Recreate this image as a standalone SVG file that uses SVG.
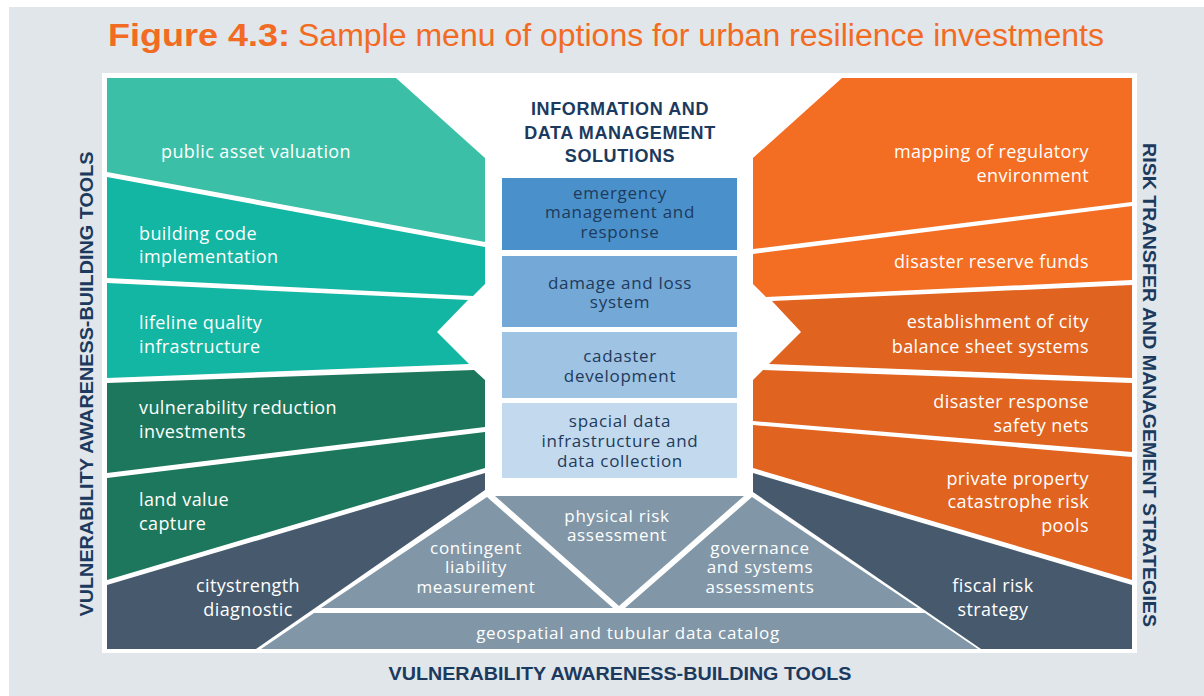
<svg xmlns="http://www.w3.org/2000/svg" width="1204" height="696" viewBox="0 0 1204 696">
<style>
.t{font-family:"Open Sans","Noto Sans",sans-serif;font-size:18px;fill:#ffffff;letter-spacing:0.4px}
.s{font-size:17px;letter-spacing:0.7px}
.c{text-anchor:middle}
.e{text-anchor:end}
.n{fill:#1E3A5C}
.h{font-family:"Liberation Sans",Arial,sans-serif;font-weight:bold;fill:#1B3A5E}
.tl{fill:#3BBFA6}
.tm{fill:#13B5A3}
.dg{fill:#1D775C}
.sl{fill:#46596D}
.gs{fill:#8197A7}
.o1{fill:#F36D22}
.o2{fill:#E0631F}
</style>
<rect x="0" y="0" width="1204" height="696" fill="#ffffff"/>
<rect x="9" y="7" width="1195" height="689" fill="#E1E6EA"/>
<text x="108" y="46" font-family="Liberation Sans, Arial, sans-serif" font-weight="bold" font-size="31" fill="#F26B22" textLength="182" lengthAdjust="spacingAndGlyphs">Figure 4.3:</text>
<text x="298" y="46" font-family="Liberation Sans, Arial, sans-serif" font-size="31" fill="#F26B22" textLength="806" lengthAdjust="spacingAndGlyphs">Sample menu of options for urban resilience investments</text>
<rect x="102" y="73" width="1035" height="580" fill="#ffffff"/>

<g id="left-public-asset-valuation">
<polygon class="tl" points="107,78 396,78 485,158 485,242 107,172"/>
<text class="t" x="161" y="158">public asset valuation</text>
</g>
<g id="left-building-code">
<polygon class="tm" points="107,177 485,247 485,284 473,296 107,278"/>
<text class="t" x="139" y="240">building code</text>
<text class="t" x="139" y="263">implementation</text>
</g>
<g id="left-lifeline">
<polygon class="tm" points="107,283 468,300 437,332 469,364 107,378"/>
<text class="t" x="139" y="329">lifeline quality</text>
<text class="t" x="139" y="353">infrastructure</text>
</g>
<g id="left-vulnerability-reduction">
<polygon class="dg" points="107,383 474,370 485,380 485,427 107,473"/>
<text class="t" x="139" y="414">vulnerability reduction</text>
<text class="t" x="139" y="438">investments</text>
</g>
<g id="left-land-value">
<polygon class="dg" points="107,478 485,432 485,468 107,580"/>
<text class="t" x="139" y="506">land value</text>
<text class="t" x="139" y="530">capture</text>
</g>
<g id="left-citystrength">
<polygon class="sl" points="107,585 485,473 485,490 256,649 107,649"/>
<text class="t c" x="248" y="592">citystrength</text>
<text class="t c" x="248" y="616">diagnostic</text>
</g>

<g id="center-heading">
<text class="h c" x="620" y="115" font-size="18" letter-spacing="0.6">INFORMATION AND</text>
<text class="h c" x="620" y="139" font-size="18" letter-spacing="0.6">DATA MANAGEMENT</text>
<text class="h c" x="620" y="162" font-size="18" letter-spacing="0.6">SOLUTIONS</text>
</g>
<g id="box-emergency">
<rect x="502" y="178" width="235" height="72" fill="#4A91CB"/>
<text class="t s c n" x="620" y="199">emergency</text>
<text class="t s c n" x="620" y="218">management and</text>
<text class="t s c n" x="620" y="238">response</text>
</g>
<g id="box-damage-loss">
<rect x="502" y="256" width="235" height="71" fill="#74A8D6"/>
<text class="t s c n" x="620" y="289">damage and loss</text>
<text class="t s c n" x="620" y="308">system</text>
</g>
<g id="box-cadaster">
<rect x="502" y="332" width="235" height="66" fill="#9FC3E3"/>
<text class="t s c n" x="620" y="362">cadaster</text>
<text class="t s c n" x="620" y="382">development</text>
</g>
<g id="box-spacial-data">
<rect x="502" y="403" width="235" height="75" fill="#C3DAEE"/>
<text class="t s c n" x="620" y="427">spacial data</text>
<text class="t s c n" x="620" y="447">infrastructure and</text>
<text class="t s c n" x="620" y="467">data collection</text>
</g>

<g id="bottom-contingent-liability">
<polygon class="gs" points="487,497 613,608 321,608"/>
<text class="t s c" x="476" y="554">contingent</text>
<text class="t s c" x="476" y="573">liability</text>
<text class="t s c" x="476" y="593">measurement</text>
</g>
<g id="bottom-physical-risk">
<polygon class="gs" points="495,496 744,496 619,606"/>
<text class="t s c" x="617" y="522">physical risk</text>
<text class="t s c" x="617" y="541">assessment</text>
</g>
<g id="bottom-governance">
<polygon class="gs" points="752,497 918,608 625,608"/>
<text class="t s c" x="760" y="554">governance</text>
<text class="t s c" x="760" y="573">and  systems</text>
<text class="t s c" x="760" y="593">assessments</text>
</g>
<g id="bottom-geospatial">
<polygon class="gs" points="314,613 925,613 978,649 261,649"/>
<text class="t s c" x="628" y="639">geospatial and tubular data catalog</text>
</g>

<g id="right-mapping-regulatory">
<polygon class="o1" points="842,78 1132,78 1132,202 753,249 753,158"/>
<text class="t e" x="1089" y="158">mapping of regulatory</text>
<text class="t e" x="1089" y="182">environment</text>
</g>
<g id="right-disaster-reserve">
<polygon class="o1" points="753,254 1132,206 1132,280 766,297 753,284"/>
<text class="t e" x="1089" y="268">disaster reserve funds</text>
</g>
<g id="right-balance-sheet">
<polygon class="o2" points="772,301 1132,285 1132,378 769,364 801,332"/>
<text class="t e" x="1089" y="328">establishment of city</text>
<text class="t e" x="1089" y="353">balance sheet systems</text>
</g>
<g id="right-safety-nets">
<polygon class="o2" points="763,370 1132,383 1132,452 753,421 753,380"/>
<text class="t e" x="1089" y="408">disaster response</text>
<text class="t e" x="1089" y="432">safety nets</text>
</g>
<g id="right-risk-pools">
<polygon class="o2" points="753,425 1132,457 1132,580 753,468"/>
<text class="t e" x="1089" y="485">private property</text>
<text class="t e" x="1089" y="508">catastrophe risk</text>
<text class="t e" x="1089" y="532">pools</text>
</g>
<g id="right-fiscal-risk">
<polygon class="sl" points="753,473 1132,585 1132,649 981,649 753,492"/>
<text class="t c" x="993" y="592">fiscal risk</text>
<text class="t c" x="993" y="616">strategy</text>
</g>

<g id="axis-labels">
<text class="h c" font-size="19" transform="translate(93,384) rotate(-90)" textLength="465" lengthAdjust="spacingAndGlyphs">VULNERABILITY AWARENESS-BUILDING TOOLS</text>
<text class="h c" font-size="19" transform="translate(1143,385) rotate(90)" textLength="484" lengthAdjust="spacingAndGlyphs">RISK TRANSFER AND MANAGEMENT STRATEGIES</text>
<text class="h c" font-size="19" x="620" y="680" textLength="463" lengthAdjust="spacingAndGlyphs">VULNERABILITY AWARENESS-BUILDING TOOLS</text>
</g>
<g id="connectors"></g>
</svg>
